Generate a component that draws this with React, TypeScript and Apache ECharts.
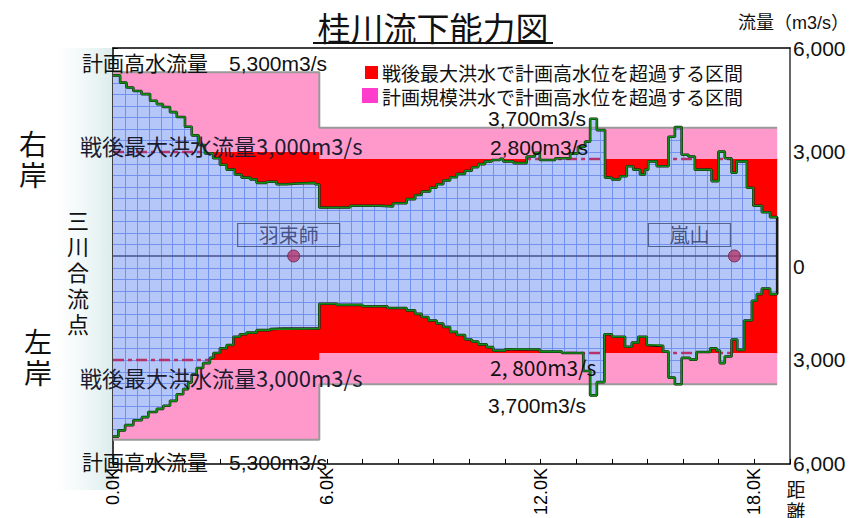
import React, { useEffect, useRef } from 'react';
import * as echarts from 'echarts';

// ---------- data ----------
const RIVER_END = 18.64; // km where the surveyed reach ends

// right bank (drawn upward): step start (km) and flow capacity (m3/s)
const rightKm = [0, 0.2, 0.38, 0.57, 0.8, 1.04, 1.23, 1.4, 1.6, 1.79, 2.02, 2.21, 2.4, 2.58, 2.81, 3.0, 3.19, 3.42, 3.61, 3.85, 4.03, 4.31, 4.59, 4.87, 5.16, 5.67, 5.79, 6.65, 7.49, 7.86, 8.24, 8.48, 8.66, 8.9, 9.08, 9.27, 9.46, 9.65, 9.88, 10.07, 10.25, 10.44, 10.63, 10.86, 10.95, 11.24, 11.61, 11.84, 11.98, 12.41, 12.83, 13.05, 13.25, 13.39, 13.58, 13.81, 14.0, 14.23, 14.42, 14.6, 14.79, 14.93, 15.02, 15.26, 15.59, 15.77, 15.96, 16.15, 16.33, 16.8, 16.99, 17.17, 17.36, 17.5, 17.79, 17.97, 18.21, 18.44];
const rightCap = [5210, 5000, 4860, 4760, 4670, 4480, 4380, 4300, 4150, 4010, 3730, 3480, 3200, 2960, 2820, 2630, 2490, 2350, 2260, 2210, 2110, 2140, 2070, 2090, 2110, 2070, 1400, 1450, 1430, 1520, 1640, 1760, 1860, 1970, 2070, 2180, 2270, 2370, 2460, 2560, 2650, 2730, 2770, 2800, 2730, 2680, 2870, 2980, 2770, 2820, 2960, 3150, 3300, 3960, 3630, 2260, 2210, 2300, 2590, 2490, 2350, 2490, 2730, 2590, 3440, 3720, 2920, 2870, 2490, 2160, 3010, 2820, 2400, 2730, 1970, 1450, 1260, 1120];

// left bank (drawn downward): step start (km) and flow capacity (m3/s)
const leftKm = [0, 0.15, 0.34, 0.57, 0.81, 0.99, 1.23, 1.41, 1.6, 1.79, 1.97, 2.11, 2.21, 2.35, 2.53, 2.72, 2.82, 3.0, 3.19, 3.38, 3.56, 3.75, 4.03, 4.41, 4.78, 5.79, 6.28, 7.0, 7.7, 8.24, 8.48, 8.66, 8.85, 9.08, 9.27, 9.46, 9.65, 9.88, 10.07, 10.25, 10.49, 10.67, 11.0, 11.42, 11.98, 12.6, 13.2, 13.39, 13.58, 13.79, 14.0, 14.37, 14.56, 14.74, 14.98, 15.21, 15.44, 15.59, 15.77, 15.96, 16.19, 16.38, 16.76, 16.94, 17.03, 17.17, 17.36, 17.52, 17.71, 17.93, 18.07, 18.21, 18.44];
const leftCap = [5210, 5030, 4880, 4740, 4650, 4500, 4410, 4320, 4180, 3990, 3840, 3650, 3420, 3230, 3090, 2940, 2800, 2660, 2570, 2330, 2260, 2210, 2140, 2110, 2090, 1380, 1410, 1450, 1500, 1570, 1670, 1760, 1860, 1950, 2050, 2190, 2280, 2410, 2470, 2550, 2630, 2730, 2690, 2700, 2760, 2800, 3320, 4020, 3640, 2260, 2330, 2620, 2500, 2330, 2570, 2590, 2760, 3510, 3700, 2940, 2990, 2770, 2660, 2730, 3090, 2900, 2410, 2710, 1860, 1290, 1100, 940, 1100];

// design high-water flow (計画高水流量)
const planKm = [0, 5.79];
const planFlow = [5300, 3700];
// post-war maximum flood flow (戦後最大洪水流量)
const postwarKm = [0, 5.79];
const postwarFlow = [3000, 2800];

const stationNames = ['羽束師', '嵐山'];
const stationKm = [5.07, 17.44];

const xLabelEvery = 6; // km
const legendTexts = ['戦後最大洪水で計画高水位を超過する区間', '計画規模洪水で計画高水位を超過する区間'];

// ---------- styles ----------
const BLUE = '#b5c7f8';
const GRID = '#7391ef';
const RED = '#ff0000';
const PINK = '#ff99cc';
const PINK_KEY = '#ff3ccc';
const GRAY = '#9a9a9a';
const DASH = '#b5336c';
const CJK = "'Noto Sans CJK JP'";
const LATIN = "'Liberation Sans','Noto Sans CJK JP'";
const stationLabelOffset = [[-5, -21], [-45, -21]];
const stationLabelWidth = [102, 82];

// ---------- helpers ----------
const sv = (kms: number[], vals: number[], x: number) => {
  let v = vals[0];
  for (let i = 0; i < kms.length; i++) {
    if (kms[i] <= x + 1e-9) v = vals[i];
    else break;
  }
  return v;
};
const capR = (x: number) => sv(rightKm, rightCap, x);
const capL = (x: number) => sv(leftKm, leftCap, x);
const plan = (x: number) => sv(planKm, planFlow, x);
const post = (x: number) => sv(postwarKm, postwarFlow, x);

const breaksOf = (...lists: number[][]) => {
  const s = new Set<number>([RIVER_END]);
  lists.forEach((l) => l.forEach((k) => { if (k < RIVER_END) s.add(k); }));
  return Array.from(s).sort((a, b) => a - b);
};

const band = (bk: number[], lo: (x: number) => number, hi: (x: number) => number) => {
  const top: number[][] = [];
  const bot: number[][] = [];
  for (let j = 0; j < bk.length - 1; j++) {
    const a = bk[j], b = bk[j + 1], m = (a + b) / 2;
    top.push([a, hi(m)], [b, hi(m)]);
    bot.push([a, lo(m)], [b, lo(m)]);
  }
  return top.concat(bot.reverse());
};

const stepPts = (kms: number[], vals: number[], sign: number) => {
  const pts: number[][] = [];
  kms.forEach((k, i) => {
    const next = i + 1 < kms.length ? kms[i + 1] : RIVER_END;
    pts.push([k, sign * vals[i]], [next, sign * vals[i]]);
  });
  return pts;
};

const crisp = (v: number) => Math.round(v) + 0.5;

const renderBlue = (_params: any, api: any) => {
  const bk = breaksOf(rightKm, leftKm);
  const poly = band(bk, (x) => -capL(x), (x) => capR(x)).map((p) => api.coord(p));
  const children: any[] = [
    { type: 'polygon', silent: true, shape: { points: poly }, style: { fill: BLUE, stroke: 'none' } },
  ];
  for (let k = 1; k / 3 < RIVER_END; k++) {
    const x = k / 3;
    const p1 = api.coord([x, capR(x)]);
    const p2 = api.coord([x, -capL(x)]);
    const px = crisp(p1[0]);
    children.push({ type: 'line', silent: true, shape: { x1: px, y1: p1[1], x2: px, y2: p2[1] }, style: { stroke: GRID, lineWidth: 1 } });
  }
  for (let j = -17; j <= 17; j++) {
    if (j === 0) continue;
    const y = (j * 1000) / 3;
    const f = j > 0 ? capR : capL;
    const lvl = Math.abs(y);
    let start: number | null = null;
    for (let i = 0; i < bk.length - 1; i++) {
      const a = bk[i], b = bk[i + 1];
      const inside = f((a + b) / 2) > lvl;
      if (inside && start === null) start = a;
      const last = i === bk.length - 2;
      if (start !== null && (!inside || last)) {
        const end = inside ? b : a;
        const p1 = api.coord([start, y]);
        const p2 = api.coord([end, y]);
        const py = crisp(p1[1]);
        children.push({ type: 'line', silent: true, shape: { x1: p1[0], y1: py, x2: p2[0], y2: py }, style: { stroke: GRID, lineWidth: 1 } });
        start = null;
      }
    }
  }
  return { type: 'group', children };
};

const renderBands = (_params: any, api: any) => {
  const bkR = breaksOf(rightKm, planKm, postwarKm);
  const bkL = breaksOf(leftKm, planKm, postwarKm);
  const polys: [number[][], string][] = [
    [band(bkR, (x) => Math.min(capR(x), post(x)), post), RED],
    [band(bkR, (x) => Math.min(plan(x), Math.max(capR(x), post(x))), plan), PINK],
    [band(bkL, (x) => -post(x), (x) => -Math.min(capL(x), post(x))), RED],
    [band(bkL, (x) => -plan(x), (x) => -Math.min(plan(x), Math.max(capL(x), post(x)))), PINK],
  ];
  return {
    type: 'group',
    children: polys.map(([pts, color]) => ({
      type: 'polygon',
      silent: true,
      shape: { points: pts.map((p) => api.coord(p)) },
      style: { fill: color, stroke: 'none' },
    })),
  };
};

const axisLine = { show: true, onZero: false, lineStyle: { color: '#000', width: 1.5 } };

const txt = (text: string, x: number, y: number, size: number, family: string, extra: any = {}) => ({
  type: 'text',
  x,
  y,
  z: 100,
  silent: true,
  style: { text, fontSize: size, fontFamily: family, fill: '#111', align: 'left', verticalAlign: 'middle', ...extra },
});

// one text element per character, stacked vertically
const vtxt = (text: string, x: number, y0: number, step: number, size: number) =>
  Array.from(text).map((ch, i) => txt(ch, x, y0 + i * step, size, CJK, { align: 'center' }));

export default function App() {
  const ref = useRef<HTMLDivElement>(null);
  useEffect(() => {
    const chart = echarts.init(ref.current!, null, { renderer: 'svg' });
    const outline = stepPts(rightKm, rightCap, 1).concat(stepPts(leftKm, leftCap, -1).reverse());
    const option: any = {
      animation: false,
      backgroundColor: '#fff',
      grid: { left: 113, right: 62, top: 48, bottom: 47 },
      xAxis: [
        {
          type: 'value', min: 0, max: 19, interval: 1, position: 'bottom',
          axisLine, axisTick: { show: true, inside: true, length: 5, lineStyle: { color: '#000' } },
          axisLabel: {
            rotate: 90, fontSize: 18, fontFamily: LATIN, color: '#000', margin: 4,
            formatter: (v: number) => (Math.abs(v / xLabelEvery - Math.round(v / xLabelEvery)) < 1e-6 ? v.toFixed(1) + 'K' : ''),
          },
          splitLine: { show: false },
        },
        {
          type: 'value', min: 0, max: 19, position: 'top',
          axisLine, axisTick: { show: false }, axisLabel: { show: false }, splitLine: { show: false },
        },
      ],
      yAxis: [
        {
          type: 'value', min: -6000, max: 6000, interval: 2000, position: 'left',
          axisLine, axisTick: { show: true, inside: true, length: 5, lineStyle: { color: '#000' } },
          axisLabel: { show: false }, splitLine: { show: false },
        },
        {
          type: 'value', min: -6000, max: 6000, interval: 3000, position: 'right',
          axisLine: { show: true, onZero: false, lineStyle: { color: '#333', width: 1.5 } }, axisTick: { show: false },
          axisLabel: {
            fontSize: 21, fontFamily: LATIN, color: '#111', margin: 3,
            formatter: (v: number) => (v === 0 ? '{z|0}' : Math.abs(v).toLocaleString('en-US')),
            rich: { z: { fontSize: 21, fontFamily: LATIN, color: '#111', padding: [22, 0, 0, 0] } },
          },
          splitLine: { show: false },
        },
      ],
      series: [
        { type: 'custom', coordinateSystem: 'cartesian2d', renderItem: renderBlue, data: [[0, 0]], silent: true, z: 1 },
        { type: 'line', data: stepPts(postwarKm, postwarFlow, 1), symbol: 'none', silent: true, z: 2, lineStyle: { color: DASH, width: 2.5, type: [11, 4, 4, 4] } },
        { type: 'line', data: stepPts(postwarKm, postwarFlow, -1), symbol: 'none', silent: true, z: 2, lineStyle: { color: DASH, width: 2.5, type: [11, 4, 4, 4] } },
        { type: 'custom', coordinateSystem: 'cartesian2d', renderItem: renderBands, data: [[0, 0]], silent: true, z: 3 },
        { type: 'line', data: stepPts(planKm, planFlow, 1), symbol: 'none', silent: true, z: 4, lineStyle: { color: GRAY, width: 2 } },
        { type: 'line', data: stepPts(planKm, planFlow, -1), symbol: 'none', silent: true, z: 4, lineStyle: { color: GRAY, width: 2 } },
        { type: 'line', data: [[0, 0], [RIVER_END, 0]], symbol: 'none', silent: true, z: 4, lineStyle: { color: '#47508c', width: 1.5 } },
        { type: 'line', data: outline, symbol: 'none', silent: true, z: 5, lineStyle: { color: '#1a1a1a', width: 2.6 } },
        { type: 'line', data: stepPts(rightKm, rightCap, 1), symbol: 'none', silent: true, z: 6, lineStyle: { color: '#138c13', width: 1.6 } },
        { type: 'line', data: stepPts(leftKm, leftCap, -1), symbol: 'none', silent: true, z: 6, lineStyle: { color: '#138c13', width: 1.6 } },
        {
          type: 'scatter', z: 7, silent: true, symbolSize: 12,
          itemStyle: { color: '#b2386e', borderColor: '#6b2249', borderWidth: 1 },
          data: stationKm.map((k, i) => ({
            name: stationNames[i],
            value: [k, 0],
            label: {
              show: true, position: 'inside', offset: stationLabelOffset[i], formatter: '{b}',
              fontSize: 20, fontFamily: CJK, color: '#2a3866', borderColor: '#3b4a78', borderWidth: 1.2,
              width: stationLabelWidth[i], height: 23, lineHeight: 23, align: 'center', verticalAlign: 'middle',
            },
          })),
        },
      ],
      graphic: [
        {
          type: 'rect', z: 0, silent: true, shape: { x: 55, y: 48, width: 57, height: 442 },
          style: { fill: { type: 'linear', x: 0, y: 0, x2: 1, y2: 0, colorStops: [{ offset: 0, color: 'rgba(235,245,245,0)' }, { offset: 1, color: '#dcecec' }] } },
        },
        txt('桂川流下能力図', 433, 27, 33, CJK, { align: 'center' }),
        { type: 'line', z: 100, silent: true, shape: { x1: 313, y1: 43, x2: 553, y2: 43 }, style: { stroke: '#111', lineWidth: 2 } },
        txt('流量（m3/s）', 849, 23, 18, LATIN, { align: 'right' }),
        ...vtxt('右岸', 33, 143, 31, 28),
        ...vtxt('三川合流点', 78, 219, 26, 22),
        ...vtxt('左岸', 38, 341, 31, 28),
        ...vtxt('距離', 796, 488, 22, 19),
        { type: 'rect', z: 100, silent: true, shape: { x: 365, y: 66, width: 13, height: 13 }, style: { fill: RED } },
        txt(legendTexts[0], 382, 72, 19, CJK),
        { type: 'rect', z: 100, silent: true, shape: { x: 362, y: 88, width: 16, height: 15 }, style: { fill: PINK_KEY } },
        txt(legendTexts[1], 382, 96, 19, CJK),
        txt('計画高水流量　5,300m3/s', 82, 63, 21, LATIN),
        txt('計画高水流量　5,300m3/s', 82, 462, 21, LATIN),
        txt('戦後最大洪水流量3,000m3/s', 80, 145, 22, CJK, { fill: '#1b1b30' }),
        txt('戦後最大洪水流量3,000m3/s', 80, 377, 22, CJK, { fill: '#1b1b30' }),
        txt('3,700m3/s', 488, 118, 21, LATIN),
        txt('3,700m3/s', 488, 405, 21, LATIN),
        txt('2,800m3/s', 490, 147, 21, LATIN),
        txt('2, 800m3/s', 490, 367, 21, CJK),
      ],
    };
    chart.setOption(option);
    return () => chart.dispose();
  }, []);
  return <div ref={ref} style={{ position: 'fixed', left: 0, top: 0, width: 852, height: 518 }} />;
}
